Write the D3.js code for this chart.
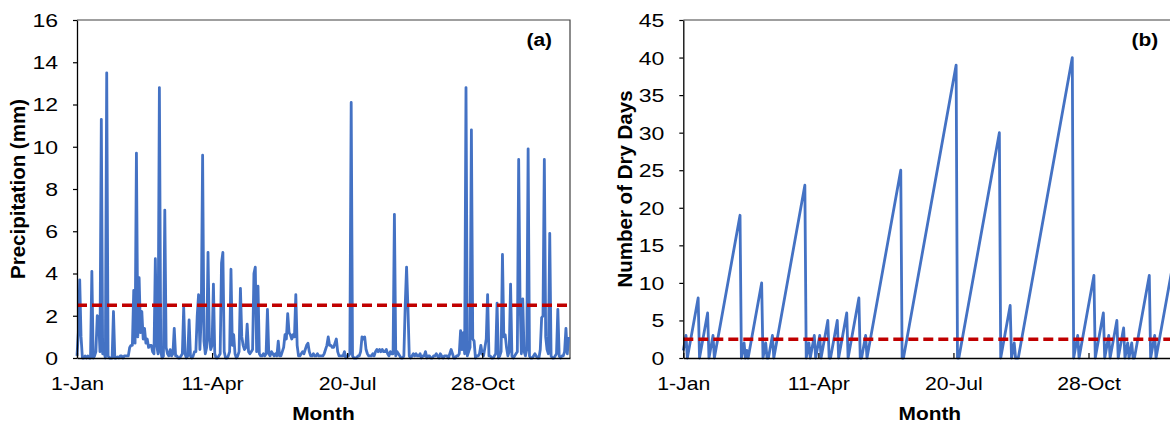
<!DOCTYPE html>
<html>
<head>
<meta charset="utf-8">
<script src="https://cdn.jsdelivr.net/npm/d3@7"></script>
<style>
  body { margin: 0; background: #fff; }
  svg { display: block; font-family: "Liberation Sans", Arial, sans-serif; }
</style>
</head>
<body>
<div id="chart"></div>
<script>
// x axis: day of year, labels every 100 days
var tickDays = [0, 100, 200, 300];
var tickLabels = ["1-Jan", "11-Apr", "20-Jul", "28-Oct"];
var threshold = 2.5;

// (a) daily precipitation (mm), day 0 = 1-Jan
var precip = [
  0.1, 1.2, 3.7, 1.0, 0, 0, 0.1, 0, 0.1, 0,
  0, 4.1, 0, 0.1, 0.3, 2.0, 1.9, 0.3, 11.3, 0.2,
  0.3, 0, 13.5, 0.1, 0, 0, 0, 2.2, 0, 0,
  0.05, 0, 0.1, 0.1, 0, 0.1, 0.1, 0.1, 0.1, 0.5,
  0.6, 0.6, 3.2, 0.7, 9.7, 1.0, 3.8, 1.2, 2.2, 0.9,
  1.4, 0.7, 0.9, 0.5, 0.6, 0.6, 0.3, 0.2, 4.7, 0.6,
  0.2, 12.8, 0.3, 0, 0.1, 7.0, 0.5, 0.2, 0.1, 0.4,
  0.1, 0.2, 1.4, 0.1, 0.1, 0, 0, 0.1, 0.2, 2.4,
  0.2, 0, 0.1, 1.8, 0.1, 0, 0.1, 0.3, 0.3, 2.0,
  3.0, 0.4, 2.0, 9.6, 0.8, 0.2, 0.5, 5.0, 0.9, 0.4,
  0.6, 3.5, 0.2, 0, 0, 0.1, 0.2, 4.5, 5.0, 0.3,
  0, 0, 0.1, 0.3, 4.2, 0.6, 1.1, 0.2, 0, 0.1,
  0.3, 3.3, 1.0, 0.6, 0.4, 0.5, 1.6, 0.3, 0.2, 0.3,
  0.4, 4.0, 4.3, 0.3, 3.4, 0.2, 0.1, 0.1, 0.2, 0.1,
  0.2, 2.3, 0.2, 0.1, 0.3, 0.2, 0.1, 0.2, 0.1, 0.8,
  0.1, 0.1, 0.3, 0.5, 1.1, 0.9, 2.1, 1.2, 1.1, 0.9,
  1.1, 1.0, 3.0, 0.6, 0.1, 0.1, 0.2, 0.3, 0.2, 0.4,
  0.6, 0.7, 0.3, 0.1, 0.1, 0.2, 0.1, 0.1, 0.2, 0.1,
  0.1, 0.1, 0.1, 0.2, 0.4, 0.6, 1.0, 0.6, 0.6, 0.5,
  0.5, 0.7, 0.9, 0.3, 0.1, 0.1, 0.1, 0.1, 0.3, 0,
  0.1, 0.1, 0.2, 12.1, 0.1, 0, 0, 0, 0.1, 0.1,
  0.3, 1.0, 0.9, 1.0, 0.4, 0.2, 0.1, 0.1, 0.1, 0.2,
  0.1, 0.3, 0.4, 0.3, 0.4, 0.3, 0.4, 0.3, 0.3, 0.4,
  0.2, 0.1, 0.3, 0.2, 0.2, 6.8, 0.1, 0.3, 0.2, 0.1,
  0, 0, 0.1, 2.5, 4.3, 2.4, 0.1, 0, 0.1, 0.2,
  0.1, 0.2, 0.1, 0.1, 0.2, 0, 0.1, 0.1, 0.3, 0,
  0.1, 0.1, 0, 0, 0.1, 0.1, 0.2, 0.1, 0, 0.2,
  0.1, 0, 0.1, 0.1, 0.1, 0, 0.2, 0.4, 0.2, 0,
  0, 0.1, 0.1, 0.2, 1.3, 0.4, 1.2, 0.2, 12.8, 0.1,
  0.3, 0.5, 10.8, 0.9, 0.8, 0, 0.1, 0.1, 0.2, 0.6,
  0.2, 0.1, 0.5, 0.9, 3.0, 0.1, 0.1, 0, 0, 0.1,
  0.2, 2.6, 0, 0.1, 0.3, 4.9, 1.0, 1.1, 0.5, 0.1,
  0.3, 3.5, 0.1, 0, 0.1, 0.2, 0.3, 9.4, 2.8, 0.2,
  2.8, 0.3, 0.1, 0.4, 9.9, 0.1, 0, 0, 0.1, 0.2,
  0.1, 0, 0, 0.4, 1.9, 2.0, 9.4, 1.0, 0.4, 0.2,
  5.9, 0.1, 0, 0, 0.1, 0.2, 2.3, 0.1, 0, 0.1,
  0.1, 0.3, 1.4, 0.2, 1.0
];

// (b) number of dry days, read at the corners of the sawtooth
var dryDay = [0, 2, 3, 11, 12, 18, 19, 22, 23, 42, 43, 45, 46, 47, 48, 58, 59, 61, 62, 63,
  66, 67, 90, 91, 93, 94, 97, 98, 101, 102, 107, 108, 109, 114, 115, 121, 122, 130, 131, 132,
  135, 136, 161, 162, 163, 202, 203, 204, 234, 235, 242, 243, 245, 246, 248, 288, 289, 292, 293,
  304, 305, 311, 312, 315, 316, 321, 322, 326, 327, 329, 330, 332, 333, 334, 345, 346, 349, 350, 364];
var dryCount = [1, 3, 0, 8, 0, 6, 0, 3, 0, 19, 0, 2, 0, 1, 0, 10, 0, 2, 0, 0,
  3, 0, 23, 0, 2, 0, 3, 0, 3, 0, 5, 0, 0, 5, 0, 6, 0, 8, 0, 0,
  3, 0, 25, 0, 0, 39, 0, 0, 30, 0, 7, 0, 2, 0, 0, 40, 0, 3, 0,
  11, 0, 6, 0, 3, 0, 5, 0, 4, 0, 2, 0, 2, 0, 0, 11, 0, 3, 0, 14];

var width = 1170, height = 423;
var blue = "#4472C4", red = "#C00000";
var tickFont = 18;

var svg = d3.select("#chart").append("svg")
  .attr("width", width)
  .attr("height", height);

function drawPanel(opt) {
  var x = d3.scaleLinear().domain([0, 365]).range([opt.left, opt.left + 493]);
  var y = d3.scaleLinear().domain([0, opt.ymax]).range([358, 20]);
  var g = svg.append("g");

  // frame (top and right)
  g.append("path")
    .attr("d", "M" + x(0) + "," + y(opt.ymax) + "H" + x(365) + "V" + y(0))
    .attr("fill", "none")
    .attr("stroke", "#404040")
    .attr("stroke-width", 1.2);

  // series
  var line = d3.line()
    .x(function(d) { return x(d[0]); })
    .y(function(d) { return y(d[1]); });
  g.append("path")
    .datum(opt.points)
    .attr("d", line)
    .attr("fill", "none")
    .attr("stroke", blue)
    .attr("stroke-width", 2.8)
    .attr("stroke-linejoin", "round");

  // threshold
  g.append("line")
    .attr("x1", x(0)).attr("x2", x(365))
    .attr("y1", y(threshold)).attr("y2", y(threshold))
    .attr("stroke", red)
    .attr("stroke-width", 3.6)
    .attr("stroke-dasharray", "10,5");

  // y axis
  var ya = g.append("g")
    .attr("transform", "translate(" + x(0) + ",0)")
    .call(d3.axisLeft(y).tickValues(d3.range(0, opt.ymax + 1, opt.ystep)).tickSize(4).tickSizeOuter(0));
  ya.select(".domain").attr("stroke", "#000").attr("stroke-width", 1.3);
  ya.selectAll(".tick line").attr("stroke", "#000").attr("stroke-width", 1.2);
  ya.selectAll(".tick text")
    .attr("x", null).attr("dy", "0.36em")
    .attr("transform", "translate(-19,0) scale(1.28,1)")
    .attr("font-size", tickFont)
    .attr("font-family", "Liberation Sans, Arial, sans-serif")
    .attr("fill", "#000");

  // x axis
  var xa = g.append("g")
    .attr("transform", "translate(0," + y(0) + ")")
    .call(d3.axisBottom(x).tickValues(tickDays)
      .tickFormat(function(d, i) { return tickLabels[i]; })
      .tickSize(-5).tickSizeOuter(0));
  xa.select(".domain").attr("stroke", "#000").attr("stroke-width", 1.3);
  xa.selectAll(".tick line").attr("stroke", "#000").attr("stroke-width", 1.2);
  xa.selectAll(".tick text")
    .attr("y", null).attr("dy", null)
    .attr("transform", "translate(0,32) scale(1.18,1)")
    .attr("font-size", tickFont)
    .attr("font-family", "Liberation Sans, Arial, sans-serif")
    .attr("fill", "#000");

  // titles
  g.append("text")
    .attr("transform", "translate(" + ((x(0) + x(365)) / 2) + ",420) scale(1.1,1)")
    .attr("text-anchor", "middle")
    .attr("font-size", 19)
    .attr("font-weight", "bold")
    .text("Month");

  g.append("text")
    .attr("transform", "translate(" + opt.titleX + "," + ((y(0) + y(opt.ymax)) / 2) + ") rotate(-90)")
    .attr("text-anchor", "middle")
    .attr("font-size", 20.5)
    .attr("font-weight", "bold")
    .text(opt.title);

  g.append("text")
    .attr("transform", "translate(" + (x(365) - 18) + ",46) scale(1.1,1)")
    .attr("text-anchor", "end")
    .attr("font-size", 19)
    .attr("font-weight", "bold")
    .text(opt.tag);
}

drawPanel({
  left: 77, ymax: 16, ystep: 2, titleX: 25,
  title: "Precipitation (mm)", tag: "(a)",
  points: precip.map(function(v, i) { return [i, v]; })
});

drawPanel({
  left: 683.3, ymax: 45, ystep: 5, titleX: 631.5,
  title: "Number of Dry Days", tag: "(b)",
  points: dryDay.map(function(d, i) { return [d, dryCount[i]]; })
});
</script>
</body>
</html>
